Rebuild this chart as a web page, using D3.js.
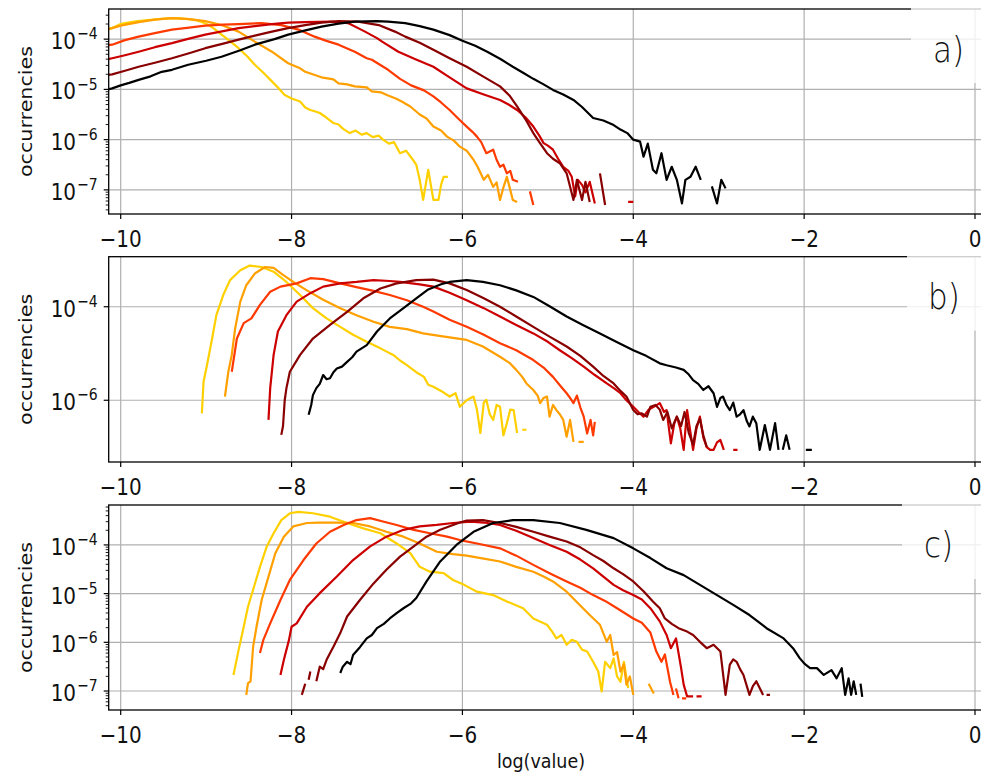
<!DOCTYPE html>
<html><head><meta charset="utf-8">
<script src="https://cdn.jsdelivr.net/npm/d3@7"></script>
<style>body{margin:0;background:#fff}svg{display:block}</style>
</head><body>
<svg id="chart" width="981" height="776"></svg>
<script>
// ---------------- DATA (x = log(value), y = log10(occurrencies)) ----------------
const xTicks = [-10, -8, -6, -4, -2, 0];
const panelLabels = ["a)", "b)", "c)"];
const yTicksA = [-4, -5, -6, -7];
const yTicksB = [-4, -6];
const yTicksC = [-4, -5, -6, -7];
const seriesNames = ["yellow", "orange", "redorange", "red", "darkred", "black"];

const a_yellow = [[-10.15,-3.80],[-10.1,-3.78],[-10.0,-3.70],[-9.95,-3.68],[-9.8,-3.64],[-9.68,-3.62],[-9.5,-3.59],[-9.33,-3.58],[-9.2,-3.60],[-9.13,-3.62],[-9.05,-3.66],[-8.97,-3.72],[-8.9,-3.80],[-8.82,-3.91],[-8.72,-4.04],[-8.62,-4.18],[-8.52,-4.34],[-8.43,-4.51],[-8.33,-4.67],[-8.23,-4.84],[-8.15,-4.98],[-8.08,-5.11],[-8.0,-5.18],[-7.9,-5.24],[-7.84,-5.36],[-7.78,-5.41],[-7.72,-5.44],[-7.67,-5.47],[-7.6,-5.55],[-7.51,-5.67],[-7.45,-5.70],[-7.4,-5.78],[-7.32,-5.87],[-7.25,-5.82],[-7.18,-5.90],[-7.12,-5.87],[-7.05,-5.95],[-6.98,-5.92],[-6.93,-6.0],[-6.86,-6.08],[-6.8,-6.05],[-6.73,-6.27],[-6.66,-6.22],[-6.58,-6.40],[-6.54,-6.50],[-6.50,-6.80],[-6.46,-7.20],[-6.43,-6.9],[-6.40,-6.60],[-6.37,-6.9],[-6.34,-7.20],[-6.28,-7.20],[-6.25,-6.9],[-6.22,-6.74],[-6.17,-6.74]];
const a_orange = [[-10.15,-3.80],[-10.1,-3.78],[-10.0,-3.73],[-9.79,-3.66],[-9.6,-3.61],[-9.4,-3.58],[-9.2,-3.60],[-9.01,-3.64],[-8.82,-3.72],[-8.62,-3.85],[-8.43,-4.05],[-8.23,-4.25],[-8.04,-4.48],[-7.9,-4.58],[-7.84,-4.65],[-7.65,-4.76],[-7.51,-4.80],[-7.45,-4.88],[-7.35,-4.90],[-7.26,-4.94],[-7.12,-4.96],[-7.06,-5.04],[-6.95,-5.06],[-6.87,-5.12],[-6.78,-5.18],[-6.71,-5.24],[-6.61,-5.34],[-6.5,-5.50],[-6.42,-5.58],[-6.34,-5.74],[-6.25,-5.82],[-6.18,-5.94],[-6.1,-6.02],[-6.03,-6.14],[-5.95,-6.22],[-5.87,-6.40],[-5.82,-6.55],[-5.75,-6.80],[-5.70,-6.70],[-5.64,-6.94],[-5.6,-6.85],[-5.56,-7.20],[-5.52,-6.95],[-5.48,-6.74],[-5.44,-7.0],[-5.41,-7.20],[-5.36,-7.24]];
const a_redorange = [[-10.15,-4.12],[-10.1,-4.11],[-9.95,-4.02],[-9.79,-3.95],[-9.6,-3.88],[-9.4,-3.81],[-9.2,-3.77],[-9.01,-3.73],[-8.8,-3.71],[-8.62,-3.70],[-8.35,-3.68],[-8.12,-3.72],[-7.92,-3.81],[-7.73,-3.95],[-7.6,-4.03],[-7.45,-4.11],[-7.26,-4.25],[-7.12,-4.38],[-7.06,-4.41],[-6.87,-4.61],[-6.73,-4.79],[-6.6,-4.92],[-6.45,-5.02],[-6.34,-5.14],[-6.25,-5.26],[-6.15,-5.41],[-6.05,-5.58],[-5.95,-5.74],[-5.88,-5.85],[-5.83,-5.94],[-5.78,-6.05],[-5.72,-6.27],[-5.64,-6.20],[-5.60,-6.40],[-5.56,-6.54],[-5.52,-6.50],[-5.48,-6.67],[-5.44,-6.62],[-5.41,-6.80],[-5.35,-6.84],[-5.3,null],[-5.21,-7.03],[-5.17,-7.30]];
const a_red = [[-10.15,-4.40],[-10.1,-4.38],[-9.95,-4.32],[-9.79,-4.25],[-9.6,-4.16],[-9.4,-4.08],[-9.2,-3.99],[-9.01,-3.91],[-8.8,-3.84],[-8.62,-3.78],[-8.43,-3.74],[-8.23,-3.70],[-8.04,-3.67],[-7.84,-3.66],[-7.53,-3.65],[-7.34,-3.68],[-7.14,-3.85],[-7.0,-3.98],[-6.94,-4.05],[-6.75,-4.25],[-6.55,-4.40],[-6.34,-4.55],[-6.15,-4.76],[-5.95,-4.98],[-5.75,-5.10],[-5.56,-5.21],[-5.46,-5.30],[-5.36,-5.41],[-5.26,-5.56],[-5.17,-5.74],[-5.10,-5.92],[-5.05,-6.07],[-5.0,-6.12],[-4.94,-6.20],[-4.88,-6.38],[-4.82,-6.54],[-4.76,-6.62],[-4.72,-6.74],[-4.68,-7.13],[-4.65,-6.80],[-4.60,-6.90],[-4.56,-7.05],[-4.51,-6.84],[-4.45,-7.27],[-4.40,null],[-4.06,-7.24],[-4.0,-7.24]];
const a_darkred = [[-10.15,-4.71],[-10.1,-4.70],[-9.95,-4.63],[-9.79,-4.55],[-9.6,-4.47],[-9.4,-4.38],[-9.2,-4.28],[-9.01,-4.18],[-8.8,-4.09],[-8.62,-4.01],[-8.43,-3.93],[-8.23,-3.85],[-8.04,-3.78],[-7.84,-3.72],[-7.65,-3.67],[-7.45,-3.64],[-7.22,-3.65],[-6.98,-3.72],[-6.79,-3.85],[-6.67,-3.95],[-6.5,-4.07],[-6.34,-4.21],[-6.15,-4.38],[-5.95,-4.55],[-5.75,-4.75],[-5.56,-4.94],[-5.45,-5.12],[-5.36,-5.34],[-5.26,-5.60],[-5.17,-5.87],[-5.10,-6.05],[-5.01,-6.27],[-4.94,-6.38],[-4.86,-6.47],[-4.78,-6.67],[-4.70,-7.20],[-4.66,-6.80],[-4.60,-7.20],[-4.56,-6.84],[-4.51,-7.24],[-4.45,null],[-4.39,-6.67],[-4.33,-7.30]];
const a_black = [[-10.15,-5.0],[-10.1,-4.98],[-10.0,-4.92],[-9.9,-4.87],[-9.79,-4.81],[-9.65,-4.74],[-9.52,-4.65],[-9.4,-4.61],[-9.21,-4.51],[-9.0,-4.43],[-8.82,-4.35],[-8.6,-4.22],[-8.43,-4.11],[-8.2,-4.0],[-8.04,-3.91],[-7.85,-3.83],[-7.65,-3.75],[-7.45,-3.69],[-7.26,-3.65],[-7.0,-3.64],[-6.87,-3.65],[-6.67,-3.68],[-6.5,-3.74],[-6.34,-3.81],[-6.15,-3.92],[-6.0,-4.03],[-5.85,-4.13],[-5.71,-4.25],[-5.55,-4.40],[-5.41,-4.55],[-5.29,-4.67],[-5.17,-4.79],[-5.05,-4.90],[-4.94,-5.01],[-4.82,-5.10],[-4.70,-5.21],[-4.6,-5.35],[-4.47,-5.57],[-4.35,-5.62],[-4.23,-5.71],[-4.15,-5.80],[-4.07,-5.87],[-4.0,-6.0],[-3.92,-6.04],[-3.88,-6.34],[-3.83,-6.08],[-3.77,-6.6],[-3.73,-6.67],[-3.67,-6.27],[-3.61,-6.8],[-3.55,-6.54],[-3.49,-6.8],[-3.43,-7.27],[-3.39,-6.8],[-3.33,-6.74],[-3.27,-6.54],[-3.21,-6.8],[-3.15,null],[-3.08,-6.93],[-3.02,-7.27],[-2.97,-6.8],[-2.92,-6.97]];

const b_yellow = [[-9.05,-6.28],[-9.03,-5.60],[-8.99,-5.25],[-8.93,-4.68],[-8.88,-4.18],[-8.80,-3.75],[-8.72,-3.43],[-8.60,-3.22],[-8.49,-3.12],[-8.35,-3.15],[-8.21,-3.25],[-8.06,-3.47],[-7.90,-3.75],[-7.75,-4.03],[-7.59,-4.25],[-7.43,-4.43],[-7.28,-4.60],[-7.12,-4.75],[-6.96,-4.89],[-6.81,-5.03],[-6.73,-5.15],[-6.65,-5.25],[-6.54,-5.40],[-6.45,-5.50],[-6.40,-5.67],[-6.34,-5.71],[-6.25,-5.80],[-6.15,-5.92],[-6.08,-5.85],[-6.03,-6.14],[-5.95,-6.0],[-5.87,-5.92],[-5.83,-6.20],[-5.79,-6.70],[-5.75,-6.05],[-5.72,-5.99],[-5.68,-6.30],[-5.64,-6.42],[-5.60,-6.10],[-5.56,-6.14],[-5.52,-6.75],[-5.48,-6.49],[-5.44,-6.20],[-5.40,-6.21],[-5.36,-6.70],[-5.33,null],[-5.30,-6.63],[-5.25,-6.63]];
const b_orange = [[-8.78,-5.92],[-8.74,-5.39],[-8.70,-5.03],[-8.66,-4.46],[-8.60,-3.89],[-8.53,-3.54],[-8.43,-3.29],[-8.31,-3.15],[-8.21,-3.17],[-8.10,-3.32],[-7.98,-3.47],[-7.82,-3.65],[-7.63,-3.85],[-7.43,-4.03],[-7.24,-4.18],[-7.04,-4.32],[-6.85,-4.43],[-6.65,-4.48],[-6.46,-4.57],[-6.25,-4.63],[-5.95,-4.71],[-5.76,-4.85],[-5.56,-5.07],[-5.45,-5.20],[-5.37,-5.35],[-5.30,-5.50],[-5.25,-5.64],[-5.17,-5.78],[-5.12,-5.90],[-5.09,-6.06],[-5.05,-5.95],[-5.01,-5.92],[-4.98,-6.35],[-4.94,-6.1],[-4.90,-6.21],[-4.86,-6.3],[-4.82,-6.42],[-4.78,-6.78],[-4.74,-6.42],[-4.70,-6.89],[-4.66,null],[-4.64,-6.89],[-4.58,-6.89]];
const b_redorange = [[-8.70,-5.39],[-8.64,-4.68],[-8.56,-4.35],[-8.47,-4.25],[-8.37,-3.96],[-8.25,-3.68],[-8.13,-3.57],[-7.94,-3.50],[-7.78,-3.39],[-7.63,-3.41],[-7.43,-3.50],[-7.24,-3.58],[-7.04,-3.66],[-6.85,-3.75],[-6.65,-3.86],[-6.46,-4.0],[-6.34,-4.10],[-6.15,-4.28],[-5.95,-4.43],[-5.75,-4.60],[-5.56,-4.78],[-5.37,-4.93],[-5.17,-5.14],[-5.05,-5.30],[-4.94,-5.50],[-4.85,-5.70],[-4.78,-5.85],[-4.74,-5.95],[-4.70,-6.06],[-4.66,-5.90],[-4.62,-6.15],[-4.58,-6.35],[-4.54,-6.71],[-4.50,-6.42],[-4.47,-6.75],[-4.45,-6.46]];
const b_red = [[-8.27,-6.42],[-8.25,-5.74],[-8.21,-5.03],[-8.16,-4.53],[-8.06,-4.18],[-7.94,-3.89],[-7.78,-3.71],[-7.63,-3.57],[-7.43,-3.50],[-7.24,-3.47],[-7.04,-3.43],[-6.85,-3.45],[-6.73,-3.47],[-6.5,-3.52],[-6.34,-3.57],[-6.15,-3.70],[-5.95,-3.86],[-5.75,-4.03],[-5.56,-4.21],[-5.37,-4.39],[-5.17,-4.57],[-5.0,-4.75],[-4.86,-4.93],[-4.72,-5.10],[-4.58,-5.28],[-4.45,-5.46],[-4.31,-5.64],[-4.22,-5.75],[-4.15,-5.85],[-4.08,-6.0],[-4.0,-6.14],[-3.94,-6.25],[-3.88,-6.35],[-3.82,-6.2],[-3.76,-6.14],[-3.69,-6.06],[-3.64,-6.25],[-3.61,-6.21],[-3.56,-6.92],[-3.52,-6.5],[-3.49,-6.35],[-3.45,-6.6],[-3.41,-7.06],[-3.37,-6.21],[-3.33,-6.7],[-3.30,-7.06],[-3.26,-6.6],[-3.22,-6.35],[-3.18,-6.8],[-3.14,-7.0],[-3.10,-7.06],[-3.06,-7.06],[-3.02,-6.9],[-2.98,-6.85],[-2.94,-7.06],[-2.90,null],[-2.83,-7.06],[-2.78,-7.06]];
const b_darkred = [[-8.12,-6.74],[-8.10,-6.55],[-8.08,-6.0],[-8.06,-5.74],[-8.02,-5.39],[-7.90,-5.03],[-7.75,-4.68],[-7.55,-4.39],[-7.35,-4.11],[-7.16,-3.82],[-6.96,-3.61],[-6.77,-3.50],[-6.54,-3.43],[-6.34,-3.42],[-6.15,-3.50],[-5.95,-3.64],[-5.75,-3.82],[-5.56,-4.0],[-5.37,-4.21],[-5.17,-4.43],[-4.98,-4.64],[-4.78,-4.85],[-4.62,-5.05],[-4.47,-5.28],[-4.35,-5.48],[-4.23,-5.64],[-4.15,-5.80],[-4.08,-5.92],[-4.0,-6.21],[-3.95,-6.30],[-3.90,-6.28],[-3.84,-6.35],[-3.80,-6.14],[-3.74,-6.10],[-3.69,-6.20],[-3.65,-6.42],[-3.60,-6.25],[-3.55,-6.6],[-3.49,-6.35],[-3.44,-6.55],[-3.40,-6.25],[-3.35,-6.70],[-3.30,-6.95],[-3.26,-6.55],[-3.22,-6.40],[-3.18,-6.75],[-3.14,-7.0]];
const b_black = [[-7.80,-6.31],[-7.77,-6.10],[-7.75,-5.89],[-7.71,-5.74],[-7.67,-5.65],[-7.63,-5.46],[-7.59,-5.55],[-7.55,-5.53],[-7.51,-5.40],[-7.47,-5.32],[-7.41,-5.28],[-7.35,-5.18],[-7.29,-5.08],[-7.24,-4.96],[-7.12,-4.82],[-7.0,-4.53],[-6.85,-4.25],[-6.69,-4.03],[-6.54,-3.82],[-6.40,-3.63],[-6.25,-3.52],[-6.15,-3.47],[-5.95,-3.43],[-5.76,-3.47],[-5.56,-3.54],[-5.37,-3.65],[-5.17,-3.79],[-4.98,-3.99],[-4.78,-4.21],[-4.59,-4.39],[-4.39,-4.57],[-4.2,-4.75],[-4.0,-4.93],[-3.85,-5.05],[-3.69,-5.21],[-3.61,-5.25],[-3.50,-5.30],[-3.41,-5.35],[-3.35,-5.45],[-3.30,-5.57],[-3.24,-5.65],[-3.18,-5.78],[-3.12,-5.70],[-3.06,-5.85],[-3.02,-6.14],[-2.98,-5.95],[-2.95,-5.92],[-2.91,-6.10],[-2.87,-6.21],[-2.83,-6.05],[-2.79,-6.35],[-2.75,-6.30],[-2.71,-6.21],[-2.67,-6.45],[-2.64,-6.56],[-2.60,-6.35],[-2.56,-6.49],[-2.52,-7.06],[-2.46,-6.53],[-2.40,-7.06],[-2.34,-6.49],[-2.30,-7.06],[-2.27,null],[-2.25,-7.06],[-2.21,-6.75],[-2.17,-7.06],[-2.13,null],[-1.98,-7.06],[-1.91,-7.06]];

const c_yellow = [[-8.68,-6.67],[-8.66,-6.50],[-8.62,-6.16],[-8.56,-5.68],[-8.51,-5.27],[-8.45,-4.92],[-8.37,-4.45],[-8.29,-4.03],[-8.21,-3.76],[-8.12,-3.49],[-8.02,-3.35],[-7.92,-3.32],[-7.75,-3.35],[-7.55,-3.42],[-7.35,-3.55],[-7.16,-3.66],[-6.96,-3.76],[-6.77,-3.97],[-6.61,-4.17],[-6.50,-4.45],[-6.38,-4.55],[-6.22,-4.58],[-6.11,-4.72],[-5.98,-4.82],[-5.83,-4.96],[-5.64,-5.03],[-5.48,-5.16],[-5.29,-5.30],[-5.17,-5.51],[-5.01,-5.64],[-4.95,-5.78],[-4.90,-5.92],[-4.84,-5.85],[-4.78,-6.05],[-4.72,-5.95],[-4.66,-5.99],[-4.60,-6.15],[-4.54,-6.19],[-4.47,-6.40],[-4.41,-6.60],[-4.37,-7.01],[-4.33,-6.40],[-4.27,-6.53],[-4.23,-6.33],[-4.19,-6.7],[-4.15,-6.81],[-4.11,-6.40],[-4.06,-6.94]];
const c_orange = [[-8.53,-7.08],[-8.51,-6.84],[-8.48,-6.80],[-8.45,-6.09],[-8.41,-5.68],[-8.35,-5.13],[-8.27,-4.65],[-8.19,-4.17],[-8.09,-3.83],[-7.98,-3.62],[-7.82,-3.55],[-7.67,-3.54],[-7.47,-3.54],[-7.28,-3.55],[-7.08,-3.62],[-6.89,-3.73],[-6.69,-3.83],[-6.50,-3.97],[-6.30,-4.14],[-6.11,-4.19],[-5.95,-4.22],[-5.75,-4.28],[-5.56,-4.34],[-5.37,-4.45],[-5.17,-4.55],[-5.05,-4.65],[-4.94,-4.75],[-4.78,-4.96],[-4.63,-5.23],[-4.51,-5.44],[-4.39,-5.64],[-4.31,-5.99],[-4.27,-5.85],[-4.23,-6.26],[-4.19,-6.2],[-4.15,-6.60],[-4.11,-6.45],[-4.08,-6.87],[-4.04,-6.7],[-4.0,-7.08],[-3.9,null],[-3.82,-6.85],[-3.76,-7.05]];
const c_redorange = [[-8.37,-6.22],[-8.33,-5.95],[-8.25,-5.61],[-8.13,-5.13],[-8.02,-4.72],[-7.86,-4.31],[-7.71,-3.97],[-7.55,-3.73],[-7.39,-3.59],[-7.24,-3.49],[-7.08,-3.45],[-6.93,-3.52],[-6.77,-3.59],[-6.57,-3.69],[-6.38,-3.76],[-6.18,-3.83],[-6.03,-3.90],[-5.8,-3.98],[-5.56,-4.07],[-5.37,-4.22],[-5.17,-4.41],[-4.98,-4.58],[-4.78,-4.75],[-4.62,-4.88],[-4.47,-5.03],[-4.33,-5.15],[-4.19,-5.30],[-4.0,-5.51],[-3.90,-5.6],[-3.80,-5.80],[-3.73,-6.19],[-3.67,-6.40],[-3.63,-6.25],[-3.57,-6.81],[-3.53,-7.08],[-3.51,null],[-3.50,-6.95],[-3.47,-7.15],[-3.45,null],[-3.43,-7.15],[-3.38,-7.15]];
const c_red = [[-8.13,-6.67],[-8.09,-6.36],[-8.03,-5.95],[-8.0,-5.68],[-7.94,-5.61],[-7.82,-5.27],[-7.67,-4.99],[-7.47,-4.65],[-7.28,-4.31],[-7.08,-4.03],[-6.89,-3.83],[-6.69,-3.69],[-6.50,-3.62],[-6.30,-3.59],[-6.11,-3.55],[-5.9,-3.52],[-5.75,-3.54],[-5.56,-3.59],[-5.37,-3.71],[-5.17,-3.86],[-4.98,-4.0],[-4.78,-4.14],[-4.62,-4.30],[-4.47,-4.48],[-4.35,-4.65],[-4.23,-4.82],[-4.12,-4.93],[-4.0,-5.03],[-3.90,-5.12],[-3.80,-5.30],[-3.69,-5.57],[-3.61,-5.85],[-3.56,-6.12],[-3.50,-5.92],[-3.44,-6.53],[-3.41,-6.87],[-3.37,-7.11],[-3.30,-7.11],[-3.27,null],[-3.26,-7.11],[-3.20,-7.11]];
const c_darkred = [[-7.88,-7.08],[-7.84,-6.85],[-7.82,null],[-7.80,-6.77],[-7.78,-6.60],[-7.76,null],[-7.71,-6.80],[-7.67,-6.50],[-7.63,-6.55],[-7.59,-6.36],[-7.51,-6.09],[-7.43,-5.81],[-7.35,-5.47],[-7.20,-5.13],[-7.04,-4.79],[-6.89,-4.51],[-6.73,-4.24],[-6.57,-4.03],[-6.42,-3.83],[-6.26,-3.69],[-6.11,-3.59],[-6.03,-3.54],[-5.95,-3.50],[-5.76,-3.49],[-5.56,-3.55],[-5.37,-3.63],[-5.17,-3.73],[-4.98,-3.83],[-4.78,-3.93],[-4.62,-4.05],[-4.47,-4.21],[-4.35,-4.33],[-4.23,-4.48],[-4.12,-4.60],[-4.0,-4.75],[-3.88,-4.95],[-3.77,-5.16],[-3.69,-5.30],[-3.63,-5.51],[-3.55,-5.62],[-3.47,-5.71],[-3.37,-5.78],[-3.30,-5.85],[-3.22,-5.99],[-3.14,-6.12],[-3.06,-6.05],[-2.98,-6.19],[-2.92,-7.08],[-2.87,-6.46],[-2.83,-6.35],[-2.79,-6.40],[-2.75,-6.55],[-2.71,-6.67],[-2.64,-7.08],[-2.60,-6.90],[-2.56,-6.80],[-2.48,-7.08],[-2.46,null],[-2.44,-7.08],[-2.40,-7.08]];
const c_black = [[-7.43,-6.63],[-7.40,-6.50],[-7.35,-6.40],[-7.31,-6.45],[-7.28,-6.26],[-7.20,-6.10],[-7.12,-5.92],[-7.06,-5.85],[-7.0,-5.71],[-6.92,-5.62],[-6.85,-5.51],[-6.77,-5.40],[-6.69,-5.30],[-6.60,-5.20],[-6.54,-5.09],[-6.42,-4.75],[-6.26,-4.34],[-6.07,-4.0],[-5.87,-3.73],[-5.64,-3.55],[-5.41,-3.49],[-5.17,-3.49],[-4.86,-3.55],[-4.55,-3.69],[-4.23,-3.86],[-4.0,-4.07],[-3.80,-4.27],[-3.61,-4.48],[-3.41,-4.62],[-3.22,-4.82],[-3.02,-5.03],[-2.83,-5.23],[-2.64,-5.44],[-2.44,-5.71],[-2.24,-5.92],[-2.13,-6.12],[-2.05,-6.33],[-1.99,-6.45],[-1.93,-6.53],[-1.85,-6.53],[-1.77,-6.67],[-1.68,-6.57],[-1.62,-6.74],[-1.56,-6.53],[-1.52,-7.08],[-1.48,-6.74],[-1.45,-7.08],[-1.42,-6.8],[-1.39,-7.08],[-1.36,null],[-1.34,-6.85],[-1.32,-7.12]];

// ---------------- STYLE / LAYOUT ----------------
const colors = ["#ffd000", "#ffa000", "#ff3a00", "#cc0000", "#880000", "#000000"];
const plotLeft = 108.7, plotRight = 995;
const stretch = 1.15;
const panels = [
  {top: 9, bottom: 214, lo: -7.48, hi: -3.40, ticks: yTicksA, minor: true,
   series: [a_yellow, a_orange, a_redorange, a_red, a_darkred, a_black], labelX: 933, labelY: 62, boxX: 911},
  {top: 256.7, bottom: 462, lo: -7.32, hi: -2.93, ticks: yTicksB, minor: false,
   series: [b_yellow, b_orange, b_redorange, b_red, b_darkred, b_black], labelX: 928, labelY: 309, boxX: 907},
  {top: 505, bottom: 710, lo: -7.39, hi: -3.18, ticks: yTicksC, minor: true,
   series: [c_yellow, c_orange, c_redorange, c_red, c_darkred, c_black], labelX: 924, labelY: 557, boxX: 902}
];

const svg = d3.select("#chart");
const x = d3.scaleLinear().domain([-10, 0]).range([120.7, 975]);
const fmtMinus = v => String(v).replace("-", "\u2212");
const FONT = "'DejaVu Sans', sans-serif";

panels.forEach((p, i) => {
  const y = d3.scaleLog().domain([Math.pow(10, p.lo), Math.pow(10, p.hi)]).range([p.bottom, p.top]);
  const g = svg.append("g");
  const clipId = "clip" + i;
  svg.append("clipPath").attr("id", clipId).append("rect")
    .attr("x", plotLeft).attr("y", p.top).attr("width", plotRight - plotLeft).attr("height", p.bottom - p.top);

  // grid
  g.selectAll(".vg").data(xTicks).enter().append("line")
    .attr("x1", d => x(d)).attr("x2", d => x(d)).attr("y1", p.top).attr("y2", p.bottom)
    .attr("stroke", "#b0b0b0").attr("stroke-width", 1.2);
  g.selectAll(".hg").data(p.ticks).enter().append("line")
    .attr("x1", plotLeft).attr("x2", plotRight)
    .attr("y1", d => y(Math.pow(10, d))).attr("y2", d => y(Math.pow(10, d)))
    .attr("stroke", "#b0b0b0").attr("stroke-width", 1.2);

  // lines
  const line = d3.line().defined(d => d[1] !== null)
    .x(d => x(d[0])).y(d => y(Math.pow(10, d[1])));
  const lg = g.append("g").attr("clip-path", `url(#${clipId})`);
  p.series.forEach((s, k) => {
    lg.append("path").datum(s).attr("d", line)
      .attr("fill", "none").attr("stroke", colors[k]).attr("stroke-width", 2.2)
      .attr("stroke-linejoin", "round").attr("data-series", seriesNames[k]);
  });

  // frame
  g.append("rect").attr("x", plotLeft).attr("y", p.top)
    .attr("width", plotRight - plotLeft).attr("height", p.bottom - p.top)
    .attr("fill", "none").attr("stroke", "#000").attr("stroke-width", 1.3);

  // x ticks
  xTicks.forEach(t => {
    g.append("line").attr("x1", x(t)).attr("x2", x(t)).attr("y1", p.bottom).attr("y2", p.bottom + 5)
      .attr("stroke", "#000").attr("stroke-width", 1.2);
    g.append("text").attr("transform", `translate(${x(t)},${p.bottom + 33}) scale(1,${stretch})`)
      .attr("text-anchor", "middle").attr("font-family", FONT).attr("font-size", 20)
      .attr("fill", "#111").text(fmtMinus(t));
  });

  // y minor ticks
  if (p.minor) {
    for (let dec = -8; dec <= -3; dec++) {
      for (let m = 2; m <= 9; m++) {
        const v = m * Math.pow(10, dec);
        const lv = Math.log10(v);
        if (lv > p.lo && lv < p.hi) {
          g.append("line").attr("x1", plotLeft - 3).attr("x2", plotLeft)
            .attr("y1", y(v)).attr("y2", y(v)).attr("stroke", "#000").attr("stroke-width", 0.9);
        }
      }
    }
  }
  // y major ticks + labels
  p.ticks.forEach(e => {
    const yy = y(Math.pow(10, e));
    g.append("line").attr("x1", plotLeft - 5).attr("x2", plotLeft).attr("y1", yy).attr("y2", yy)
      .attr("stroke", "#000").attr("stroke-width", 1.2);
    const t = g.append("text").attr("transform", `translate(${plotLeft - 11},${yy + 10}) scale(1,${stretch})`)
      .attr("text-anchor", "end").attr("font-family", FONT).attr("font-size", 20).attr("fill", "#111");
    t.append("tspan").text("10");
    t.append("tspan").attr("dy", -8.5).attr("dx", 1).attr("font-size", 14).text(fmtMinus(e));
  });

  // y label
  g.append("text")
    .attr("transform", `translate(32,${(p.top + p.bottom) / 2}) scale(1,${stretch}) rotate(-90)`)
    .attr("text-anchor", "middle").attr("font-family", FONT).attr("font-size", 18)
    .attr("fill", "#111").text("occurrencies");

  // panel label box
  g.append("rect").attr("x", p.boxX).attr("y", p.top - 6).attr("width", 981 - p.boxX)
    .attr("height", 80).attr("fill", "#fff").attr("fill-opacity", 0.8);
  g.append("text").attr("transform", `translate(${p.labelX},${p.labelY}) scale(1,${stretch})`)
    .attr("font-family", FONT).attr("font-size", 31).attr("font-weight", 300)
    .attr("fill", "#111").text(panelLabels[i]);
});

svg.append("text").attr("transform", `translate(541,768) scale(1,${stretch})`)
  .attr("text-anchor", "middle").attr("font-family", FONT).attr("font-size", 17.5)
  .attr("fill", "#111").text("log(value)");
</script>
</body></html>
